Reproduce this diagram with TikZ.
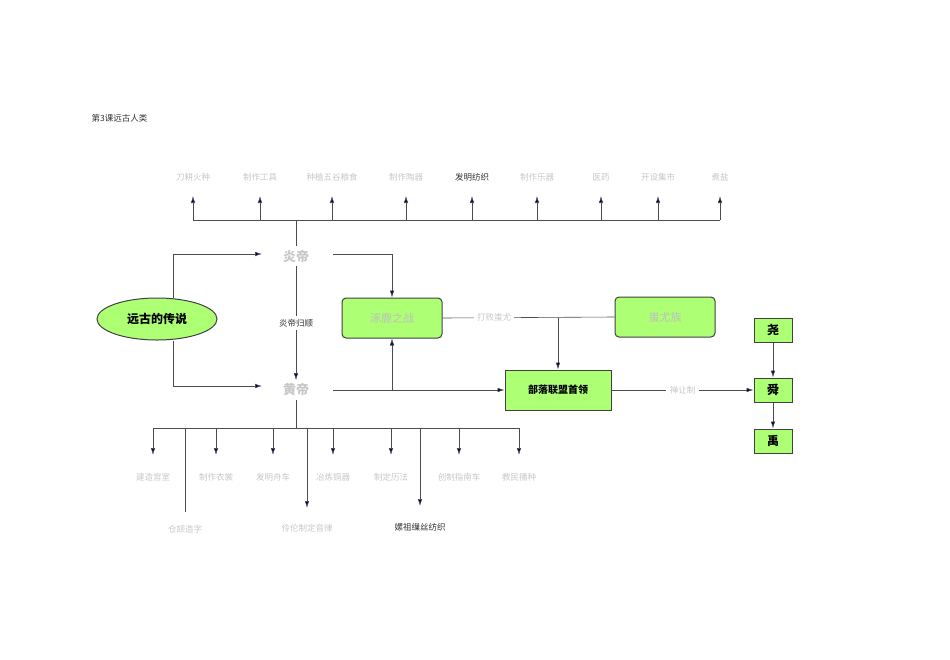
\documentclass[tikz,border=0pt]{standalone}
\usepackage{fontspec}
\newfontfamily\cjk{Noto Sans CJK SC}
\usetikzlibrary{shapes.geometric,arrows.meta}
\begin{document}
\begin{tikzpicture}[x=1pt,y=-1pt,
  ln/.style={draw=black!70,line width=0.6pt},
  ar/.style={ln,-{Latex[length=7pt,width=4.5pt,fill=blue!30!black]}},
  faint/.style={font=\cjk\fontsize{8.5}{9}\selectfont,text=black!22},
  dark/.style={font=\cjk\fontsize{8.5}{9}\selectfont,text=black!80},
  gbox/.style={draw=black!75,line width=1pt,fill=green!45!lime!55,rounded corners=4pt,minimum width=100pt,minimum height=40pt,font=\cjk\fontsize{11}{12}\selectfont,text=black!25},
  sbox/.style={draw=black!75,line width=1pt,fill=green!45!lime!55,minimum width=38pt,minimum height=24pt,font=\cjk\bfseries\fontsize{12}{13}\selectfont}]
\useasboundingbox (0,0) rectangle (950,659);
\node[dark,anchor=west] (title) at (88,118) {第3课远古人类};
% top row
\coordinate (th) at (296,220);
\foreach \x/\t [count=\i] in {193/刀耕火种,260/制作工具,332/种植五谷粮食,406/制作陶器,472/发明纺织,537/制作乐器,601/医药,658/开设集市,720/煮盐}{
  \ifnum\i=5 \node[dark] (t\i) at (\x,177) {\t};\else\node[faint] (t\i) at (\x,177) {\t};\fi
  \coordinate (tb\i) at (\x,220);
  \draw[ar] (tb\i) -- (\x,196);
}
\draw[ln] (tb1) -- (tb9);
\node[font=\cjk\bfseries\fontsize{13}{14}\selectfont,text=black!22] (yan) at (296,256) {炎帝};
\node[font=\cjk\bfseries\fontsize{13}{14}\selectfont,text=black!22] (huang) at (296,390) {黄帝};
\draw[ln] (th) -- (yan);
\draw[ar] (yan) -- (huang) node[midway,dark,fill=white,pos=0.5] (gs) {炎帝归顺};
\node[ellipse,draw=black!75,line width=1pt,fill=green!45!lime!55,minimum width=120pt,minimum height=42pt,font=\cjk\bfseries\fontsize{12}{13}\selectfont] (el) at (157,319) {远古的传说};
\draw[ar] (el.north -| 173,0) |- (262,254);
\draw[ar] (el.south -| 173,0) |- (262,386);
\node[gbox] (zl) at (392,318) {涿鹿之战};
\node[gbox] (cy) at (665,317) {蚩尤族};
\node[gbox,text=black,font=\cjk\bfseries\fontsize{10}{11}\selectfont,rounded corners=0pt,minimum width=106pt] (bl) at (558,390) {部落联盟首领};
\draw[ar] (333,254) -| (zl.north);
\draw[ar] (333,390) -- (bl.west);
\draw[ar] (392,390) -- (zl.south);
\draw[ln] (zl.east) -- (cy.west) node[pos=0.3,faint,fill=white] (db) {打败蚩尤};
\draw[ar] (558,318) -- (bl.north);
\node[sbox] (yao) at (773,330) {尧};
\node[sbox] (shun) at (773,390) {舜};
\node[sbox] (yu) at (773,441) {禹};
\draw[ar] (bl.east) -- (shun.west) node[midway,faint,fill=white] (sr) {禅让制};
\draw[ar] (yao) -- (shun);
\draw[ar] (shun) -- (yu);
% bottom
\draw[ln] (huang) -- (296,428);
\draw[ln] (153,428) -- (519,428);
\foreach \x/\t [count=\i] in {153/建造宫室,216/制作衣裳,273/发明舟车,333/冶炼铜器,391/制定历法,459/创制指南车,519/教民播种}{
  \node[faint] (b\i) at (\x,477) {\t};
  \draw[ar] (\x,428) -- (\x,455);
}
\draw[ln] (185,428) -- (185,512);
\node[faint] (c1) at (185,529) {仓颉造字};
\draw[ar] (307,428) -- (307,508);
\node[faint] (c2) at (307,528) {伶伦制定音律};
\draw[ar] (420,428) -- (420,506);
\node[dark] (c3) at (420,527) {嫘祖缫丝纺织};
\end{tikzpicture}
\end{document}
